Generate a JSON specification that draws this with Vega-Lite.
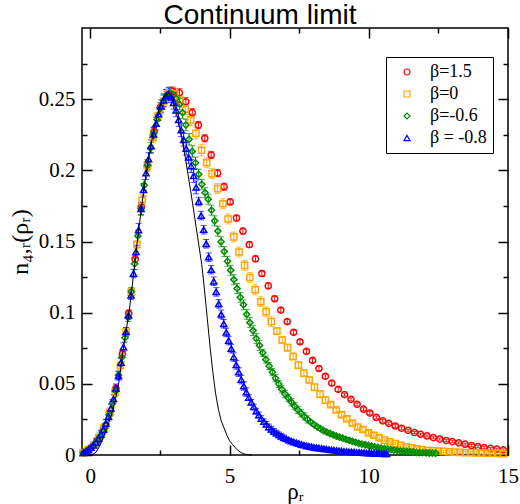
{
"$schema":"https://vega.github.io/schema/vega-lite/v6.json",
"width":426,"height":427,
"autosize":{"type":"none"},
"padding":{"left":82,"top":28,"right":12,"bottom":49},
"background":"white",
"title":{"text":"Continuum limit","font":"Liberation Sans","fontSize":28,"fontWeight":"normal","anchor":"middle","offset":-3,"dx":-35,"color":"black"},
"datasets":{
"pts":[
{"s":"β=1.5","x":-0.22,"y":0.0018,"e":0.001},{"s":"β=1.5","x":0.01,"y":0.0049,"e":0.0015},{"s":"β=1.5","x":0.24,"y":0.0098,"e":0.002},{"s":"β=1.5","x":0.47,"y":0.0177,"e":0.002},{"s":"β=1.5","x":0.69,"y":0.0294,"e":0.0025},{"s":"β=1.5","x":0.92,"y":0.0468,"e":0.0025},{"s":"β=1.5","x":1.15,"y":0.071,"e":0.0025},{"s":"β=1.5","x":1.38,"y":0.0995,"e":0.0025},{"s":"β=1.5","x":1.61,"y":0.1377,"e":0.0025},{"s":"β=1.5","x":1.83,"y":0.1745,"e":0.003},{"s":"β=1.5","x":2.06,"y":0.2035,"e":0.003},{"s":"β=1.5","x":2.29,"y":0.2272,"e":0.003},{"s":"β=1.5","x":2.52,"y":0.2445,"e":0.003},{"s":"β=1.5","x":2.75,"y":0.2525,"e":0.003},{"s":"β=1.5","x":2.97,"y":0.2555,"e":0.003},{"s":"β=1.5","x":3.2,"y":0.2544,"e":0.003},{"s":"β=1.5","x":3.43,"y":0.2482,"e":0.003},{"s":"β=1.5","x":3.66,"y":0.2405,"e":0.003},{"s":"β=1.5","x":3.88,"y":0.2318,"e":0.0025},{"s":"β=1.5","x":4.11,"y":0.2225,"e":0.0025},{"s":"β=1.5","x":4.34,"y":0.2108,"e":0.0025},{"s":"β=1.5","x":4.57,"y":0.198,"e":0.0025},{"s":"β=1.5","x":4.8,"y":0.1885,"e":0.0025},{"s":"β=1.5","x":5.02,"y":0.1778,"e":0.002},{"s":"β=1.5","x":5.25,"y":0.1665,"e":0.002},{"s":"β=1.5","x":5.48,"y":0.1573,"e":0.002},{"s":"β=1.5","x":5.71,"y":0.1478,"e":0.002},{"s":"β=1.5","x":5.93,"y":0.1378,"e":0.002},{"s":"β=1.5","x":6.16,"y":0.1275,"e":0.002},{"s":"β=1.5","x":6.39,"y":0.1188,"e":0.002},{"s":"β=1.5","x":6.62,"y":0.1098,"e":0.002},{"s":"β=1.5","x":6.84,"y":0.1018,"e":0.0015},{"s":"β=1.5","x":7.07,"y":0.0937,"e":0.0015},{"s":"β=1.5","x":7.3,"y":0.0862,"e":0.0015},{"s":"β=1.5","x":7.53,"y":0.0795,"e":0.0015},{"s":"β=1.5","x":7.76,"y":0.0728,"e":0.0015},{"s":"β=1.5","x":7.98,"y":0.0665,"e":0.0015},{"s":"β=1.5","x":8.21,"y":0.0608,"e":0.0015},{"s":"β=1.5","x":8.44,"y":0.0553,"e":0.0015},{"s":"β=1.5","x":8.67,"y":0.0505,"e":0.0015},{"s":"β=1.5","x":8.9,"y":0.0461,"e":0.0015},{"s":"β=1.5","x":9.13,"y":0.0424,"e":0.001},{"s":"β=1.5","x":9.36,"y":0.0391,"e":0.001},{"s":"β=1.5","x":9.58,"y":0.0356,"e":0.001},{"s":"β=1.5","x":9.81,"y":0.0322,"e":0.001},{"s":"β=1.5","x":10.04,"y":0.0295,"e":0.001},{"s":"β=1.5","x":10.27,"y":0.0264,"e":0.001},{"s":"β=1.5","x":10.5,"y":0.024,"e":0.001},{"s":"β=1.5","x":10.72,"y":0.0222,"e":0.001},{"s":"β=1.5","x":10.95,"y":0.0204,"e":0.001},{"s":"β=1.5","x":11.18,"y":0.0188,"e":0.001},{"s":"β=1.5","x":11.41,"y":0.0173,"e":0.0007},{"s":"β=1.5","x":11.64,"y":0.0158,"e":0.0007},{"s":"β=1.5","x":11.86,"y":0.0146,"e":0.0007},{"s":"β=1.5","x":12.09,"y":0.0134,"e":0.0007},{"s":"β=1.5","x":12.32,"y":0.0122,"e":0.0007},{"s":"β=1.5","x":12.55,"y":0.0112,"e":0.0007},{"s":"β=1.5","x":12.78,"y":0.0102,"e":0.0007},{"s":"β=1.5","x":13.0,"y":0.0094,"e":0.0007},{"s":"β=1.5","x":13.23,"y":0.0085,"e":0.0007},{"s":"β=1.5","x":13.46,"y":0.0076,"e":0.0007},{"s":"β=1.5","x":13.69,"y":0.0067,"e":0.0007},{"s":"β=1.5","x":13.92,"y":0.0059,"e":0.0007},{"s":"β=1.5","x":14.14,"y":0.0052,"e":0.0007},{"s":"β=1.5","x":14.37,"y":0.0046,"e":0.0007},{"s":"β=1.5","x":14.6,"y":0.0041,"e":0.0007},{"s":"β=1.5","x":14.83,"y":0.0036,"e":0.0007},
{"s":"β=0","x":-0.27,"y":0.0014,"e":0.001},{"s":"β=0","x":-0.08,"y":0.0036,"e":0.0015},{"s":"β=0","x":0.12,"y":0.007,"e":0.002},{"s":"β=0","x":0.31,"y":0.012,"e":0.002},{"s":"β=0","x":0.5,"y":0.019,"e":0.003},{"s":"β=0","x":0.7,"y":0.03,"e":0.003},{"s":"β=0","x":0.89,"y":0.0442,"e":0.003},{"s":"β=0","x":1.08,"y":0.0629,"e":0.003},{"s":"β=0","x":1.28,"y":0.0864,"e":0.003},{"s":"β=0","x":1.47,"y":0.1144,"e":0.003},{"s":"β=0","x":1.67,"y":0.1479,"e":0.003},{"s":"β=0","x":1.86,"y":0.179,"e":0.004},{"s":"β=0","x":2.05,"y":0.2035,"e":0.004},{"s":"β=0","x":2.25,"y":0.2235,"e":0.004},{"s":"β=0","x":2.44,"y":0.2385,"e":0.004},{"s":"β=0","x":2.63,"y":0.2485,"e":0.004},{"s":"β=0","x":2.83,"y":0.2545,"e":0.004},{"s":"β=0","x":3.02,"y":0.2538,"e":0.004},{"s":"β=0","x":3.21,"y":0.2492,"e":0.004},{"s":"β=0","x":3.41,"y":0.2431,"e":0.004},{"s":"β=0","x":3.6,"y":0.2355,"e":0.004},{"s":"β=0","x":3.79,"y":0.226,"e":0.004},{"s":"β=0","x":3.99,"y":0.2141,"e":0.004},{"s":"β=0","x":4.18,"y":0.2053,"e":0.0035},{"s":"β=0","x":4.37,"y":0.1977,"e":0.0035},{"s":"β=0","x":4.57,"y":0.1872,"e":0.0035},{"s":"β=0","x":4.76,"y":0.1765,"e":0.0035},{"s":"β=0","x":4.95,"y":0.1658,"e":0.0035},{"s":"β=0","x":5.15,"y":0.1532,"e":0.0035},{"s":"β=0","x":5.34,"y":0.1426,"e":0.0035},{"s":"β=0","x":5.54,"y":0.1332,"e":0.0035},{"s":"β=0","x":5.73,"y":0.1247,"e":0.0035},{"s":"β=0","x":5.92,"y":0.1161,"e":0.0035},{"s":"β=0","x":6.12,"y":0.1077,"e":0.0035},{"s":"β=0","x":6.31,"y":0.1005,"e":0.0035},{"s":"β=0","x":6.5,"y":0.0937,"e":0.0035},{"s":"β=0","x":6.7,"y":0.087,"e":0.0025},{"s":"β=0","x":6.89,"y":0.0808,"e":0.0025},{"s":"β=0","x":7.08,"y":0.0754,"e":0.0025},{"s":"β=0","x":7.28,"y":0.0692,"e":0.0025},{"s":"β=0","x":7.47,"y":0.0632,"e":0.0025},{"s":"β=0","x":7.67,"y":0.0575,"e":0.0025},{"s":"β=0","x":7.86,"y":0.0527,"e":0.0025},{"s":"β=0","x":8.05,"y":0.0477,"e":0.0025},{"s":"β=0","x":8.25,"y":0.0428,"e":0.0025},{"s":"β=0","x":8.44,"y":0.0386,"e":0.0025},{"s":"β=0","x":8.63,"y":0.0354,"e":0.0015},{"s":"β=0","x":8.83,"y":0.0316,"e":0.0015},{"s":"β=0","x":9.02,"y":0.0284,"e":0.0015},{"s":"β=0","x":9.21,"y":0.0254,"e":0.0015},{"s":"β=0","x":9.41,"y":0.0224,"e":0.0015},{"s":"β=0","x":9.6,"y":0.0197,"e":0.0015},{"s":"β=0","x":9.79,"y":0.0179,"e":0.0015},{"s":"β=0","x":9.99,"y":0.0156,"e":0.0015},{"s":"β=0","x":10.18,"y":0.0139,"e":0.0015},{"s":"β=0","x":10.37,"y":0.0122,"e":0.0015},{"s":"β=0","x":10.57,"y":0.0105,"e":0.0008},{"s":"β=0","x":10.76,"y":0.0092,"e":0.0008},{"s":"β=0","x":10.95,"y":0.008,"e":0.0008},{"s":"β=0","x":11.15,"y":0.0068,"e":0.0008},{"s":"β=0","x":11.34,"y":0.0058,"e":0.0008},{"s":"β=0","x":11.53,"y":0.005,"e":0.0008},{"s":"β=0","x":11.73,"y":0.0044,"e":0.0008},{"s":"β=0","x":11.92,"y":0.0037,"e":0.0008},{"s":"β=0","x":12.11,"y":0.0033,"e":0.0008},{"s":"β=0","x":12.31,"y":0.003,"e":0.0008},{"s":"β=0","x":12.5,"y":0.0027,"e":0.0008},{"s":"β=0","x":12.69,"y":0.0025,"e":0.0008},{"s":"β=0","x":12.89,"y":0.0022,"e":0.0008},{"s":"β=0","x":13.08,"y":0.002,"e":0.0008},{"s":"β=0","x":13.28,"y":0.0019,"e":0.0008},{"s":"β=0","x":13.47,"y":0.0017,"e":0.0008},{"s":"β=0","x":13.66,"y":0.0016,"e":0.0008},{"s":"β=0","x":13.86,"y":0.0015,"e":0.0008},{"s":"β=0","x":14.05,"y":0.0014,"e":0.0008},{"s":"β=0","x":14.24,"y":0.0013,"e":0.0008},{"s":"β=0","x":14.44,"y":0.0012,"e":0.0008},{"s":"β=0","x":14.63,"y":0.0011,"e":0.0008},{"s":"β=0","x":14.82,"y":0.001,"e":0.0008},
{"s":"β=-0.6","x":-0.25,"y":0.0015,"e":0.0015},{"s":"β=-0.6","x":-0.135,"y":0.0028,"e":0.0015},{"s":"β=-0.6","x":-0.02,"y":0.0045,"e":0.0015},{"s":"β=-0.6","x":0.095,"y":0.0065,"e":0.0015},{"s":"β=-0.6","x":0.21,"y":0.0091,"e":0.0015},{"s":"β=-0.6","x":0.325,"y":0.0125,"e":0.003},{"s":"β=-0.6","x":0.44,"y":0.0166,"e":0.003},{"s":"β=-0.6","x":0.555,"y":0.0217,"e":0.003},{"s":"β=-0.6","x":0.67,"y":0.0282,"e":0.003},{"s":"β=-0.6","x":0.785,"y":0.036,"e":0.003},{"s":"β=-0.6","x":0.9,"y":0.045,"e":0.003},{"s":"β=-0.6","x":1.015,"y":0.0561,"e":0.003},{"s":"β=-0.6","x":1.13,"y":0.0686,"e":0.003},{"s":"β=-0.6","x":1.245,"y":0.0824,"e":0.003},{"s":"β=-0.6","x":1.36,"y":0.0968,"e":0.003},{"s":"β=-0.6","x":1.475,"y":0.1148,"e":0.003},{"s":"β=-0.6","x":1.59,"y":0.1343,"e":0.004},{"s":"β=-0.6","x":1.705,"y":0.1539,"e":0.004},{"s":"β=-0.6","x":1.82,"y":0.173,"e":0.004},{"s":"β=-0.6","x":1.935,"y":0.1896,"e":0.004},{"s":"β=-0.6","x":2.05,"y":0.2035,"e":0.004},{"s":"β=-0.6","x":2.165,"y":0.2157,"e":0.004},{"s":"β=-0.6","x":2.28,"y":0.2262,"e":0.004},{"s":"β=-0.6","x":2.395,"y":0.2356,"e":0.004},{"s":"β=-0.6","x":2.51,"y":0.2435,"e":0.004},{"s":"β=-0.6","x":2.625,"y":0.249,"e":0.004},{"s":"β=-0.6","x":2.74,"y":0.2528,"e":0.004},{"s":"β=-0.6","x":2.855,"y":0.2545,"e":0.004},{"s":"β=-0.6","x":2.97,"y":0.2531,"e":0.004},{"s":"β=-0.6","x":3.085,"y":0.2504,"e":0.004},{"s":"β=-0.6","x":3.2,"y":0.2465,"e":0.004},{"s":"β=-0.6","x":3.315,"y":0.2405,"e":0.004},{"s":"β=-0.6","x":3.43,"y":0.2318,"e":0.004},{"s":"β=-0.6","x":3.545,"y":0.2219,"e":0.004},{"s":"β=-0.6","x":3.66,"y":0.2133,"e":0.004},{"s":"β=-0.6","x":3.775,"y":0.2053,"e":0.004},{"s":"β=-0.6","x":3.89,"y":0.1972,"e":0.0035},{"s":"β=-0.6","x":4.005,"y":0.1902,"e":0.0035},{"s":"β=-0.6","x":4.12,"y":0.1843,"e":0.0035},{"s":"β=-0.6","x":4.235,"y":0.1797,"e":0.0035},{"s":"β=-0.6","x":4.35,"y":0.172,"e":0.0035},{"s":"β=-0.6","x":4.465,"y":0.1645,"e":0.0035},{"s":"β=-0.6","x":4.58,"y":0.1573,"e":0.0035},{"s":"β=-0.6","x":4.695,"y":0.1498,"e":0.0035},{"s":"β=-0.6","x":4.81,"y":0.1429,"e":0.0035},{"s":"β=-0.6","x":4.925,"y":0.1361,"e":0.0035},{"s":"β=-0.6","x":5.04,"y":0.1298,"e":0.0035},{"s":"β=-0.6","x":5.155,"y":0.1232,"e":0.0035},{"s":"β=-0.6","x":5.27,"y":0.117,"e":0.0035},{"s":"β=-0.6","x":5.385,"y":0.1108,"e":0.0035},{"s":"β=-0.6","x":5.5,"y":0.1055,"e":0.0035},{"s":"β=-0.6","x":5.615,"y":0.0988,"e":0.0035},{"s":"β=-0.6","x":5.73,"y":0.093,"e":0.0035},{"s":"β=-0.6","x":5.845,"y":0.0874,"e":0.0035},{"s":"β=-0.6","x":5.96,"y":0.0819,"e":0.0035},{"s":"β=-0.6","x":6.075,"y":0.077,"e":0.0035},{"s":"β=-0.6","x":6.19,"y":0.0718,"e":0.0025},{"s":"β=-0.6","x":6.305,"y":0.067,"e":0.0025},{"s":"β=-0.6","x":6.42,"y":0.0625,"e":0.0025},{"s":"β=-0.6","x":6.535,"y":0.0582,"e":0.0025},{"s":"β=-0.6","x":6.65,"y":0.0539,"e":0.0025},{"s":"β=-0.6","x":6.765,"y":0.0499,"e":0.0025},{"s":"β=-0.6","x":6.88,"y":0.0461,"e":0.0025},{"s":"β=-0.6","x":6.995,"y":0.0428,"e":0.0025},{"s":"β=-0.6","x":7.11,"y":0.04,"e":0.0025},{"s":"β=-0.6","x":7.225,"y":0.0371,"e":0.0025},{"s":"β=-0.6","x":7.34,"y":0.0343,"e":0.0025},{"s":"β=-0.6","x":7.455,"y":0.0317,"e":0.0025},{"s":"β=-0.6","x":7.57,"y":0.0293,"e":0.0025},{"s":"β=-0.6","x":7.685,"y":0.0271,"e":0.0025},{"s":"β=-0.6","x":7.8,"y":0.025,"e":0.0025},{"s":"β=-0.6","x":7.915,"y":0.0231,"e":0.0012},{"s":"β=-0.6","x":8.03,"y":0.0214,"e":0.0012},{"s":"β=-0.6","x":8.145,"y":0.0198,"e":0.0012},{"s":"β=-0.6","x":8.26,"y":0.0185,"e":0.0012},{"s":"β=-0.6","x":8.375,"y":0.0172,"e":0.0012},{"s":"β=-0.6","x":8.49,"y":0.0161,"e":0.0012},{"s":"β=-0.6","x":8.605,"y":0.0151,"e":0.0012},{"s":"β=-0.6","x":8.72,"y":0.0142,"e":0.0012},{"s":"β=-0.6","x":8.835,"y":0.0133,"e":0.0012},{"s":"β=-0.6","x":8.95,"y":0.0125,"e":0.0012},{"s":"β=-0.6","x":9.065,"y":0.0118,"e":0.0012},{"s":"β=-0.6","x":9.18,"y":0.011,"e":0.0012},{"s":"β=-0.6","x":9.295,"y":0.0103,"e":0.0012},{"s":"β=-0.6","x":9.41,"y":0.0096,"e":0.0012},{"s":"β=-0.6","x":9.525,"y":0.0089,"e":0.0012},{"s":"β=-0.6","x":9.64,"y":0.0082,"e":0.0006},{"s":"β=-0.6","x":9.755,"y":0.0077,"e":0.0006},{"s":"β=-0.6","x":9.87,"y":0.0072,"e":0.0006},{"s":"β=-0.6","x":9.985,"y":0.0067,"e":0.0006},{"s":"β=-0.6","x":10.1,"y":0.0062,"e":0.0006},{"s":"β=-0.6","x":10.215,"y":0.0057,"e":0.0006},{"s":"β=-0.6","x":10.33,"y":0.0053,"e":0.0006},{"s":"β=-0.6","x":10.445,"y":0.0048,"e":0.0006},{"s":"β=-0.6","x":10.56,"y":0.0044,"e":0.0006},{"s":"β=-0.6","x":10.675,"y":0.0041,"e":0.0006},{"s":"β=-0.6","x":10.79,"y":0.0038,"e":0.0006},{"s":"β=-0.6","x":10.905,"y":0.0035,"e":0.0006},{"s":"β=-0.6","x":11.02,"y":0.0032,"e":0.0006},{"s":"β=-0.6","x":11.135,"y":0.0029,"e":0.0006},{"s":"β=-0.6","x":11.25,"y":0.0027,"e":0.0006},{"s":"β=-0.6","x":11.365,"y":0.0025,"e":0.0006},{"s":"β=-0.6","x":11.48,"y":0.0023,"e":0.0006},{"s":"β=-0.6","x":11.595,"y":0.0021,"e":0.0006},{"s":"β=-0.6","x":11.71,"y":0.0019,"e":0.0006},{"s":"β=-0.6","x":11.825,"y":0.0017,"e":0.0006},{"s":"β=-0.6","x":11.94,"y":0.0016,"e":0.0006},{"s":"β=-0.6","x":12.055,"y":0.0015,"e":0.0006},{"s":"β=-0.6","x":12.17,"y":0.0014,"e":0.0006},{"s":"β=-0.6","x":12.285,"y":0.0013,"e":0.0006},{"s":"β=-0.6","x":12.4,"y":0.0012,"e":0.0006},
{"s":"β = -0.8","x":-0.25,"y":0.0015,"e":0.0015},{"s":"β = -0.8","x":-0.16,"y":0.0025,"e":0.0015},{"s":"β = -0.8","x":-0.07,"y":0.0037,"e":0.0015},{"s":"β = -0.8","x":0.02,"y":0.0052,"e":0.0015},{"s":"β = -0.8","x":0.11,"y":0.0068,"e":0.0015},{"s":"β = -0.8","x":0.2,"y":0.0088,"e":0.003},{"s":"β = -0.8","x":0.29,"y":0.0114,"e":0.003},{"s":"β = -0.8","x":0.38,"y":0.0143,"e":0.003},{"s":"β = -0.8","x":0.47,"y":0.0178,"e":0.003},{"s":"β = -0.8","x":0.56,"y":0.022,"e":0.003},{"s":"β = -0.8","x":0.65,"y":0.027,"e":0.003},{"s":"β = -0.8","x":0.74,"y":0.0328,"e":0.003},{"s":"β = -0.8","x":0.83,"y":0.0394,"e":0.003},{"s":"β = -0.8","x":0.92,"y":0.0469,"e":0.003},{"s":"β = -0.8","x":1.01,"y":0.0556,"e":0.003},{"s":"β = -0.8","x":1.1,"y":0.065,"e":0.003},{"s":"β = -0.8","x":1.19,"y":0.0758,"e":0.003},{"s":"β = -0.8","x":1.28,"y":0.0866,"e":0.003},{"s":"β = -0.8","x":1.37,"y":0.0981,"e":0.003},{"s":"β = -0.8","x":1.46,"y":0.1122,"e":0.003},{"s":"β = -0.8","x":1.55,"y":0.1275,"e":0.003},{"s":"β = -0.8","x":1.64,"y":0.1428,"e":0.0045},{"s":"β = -0.8","x":1.73,"y":0.1581,"e":0.0045},{"s":"β = -0.8","x":1.82,"y":0.173,"e":0.0045},{"s":"β = -0.8","x":1.91,"y":0.1863,"e":0.0045},{"s":"β = -0.8","x":2.0,"y":0.198,"e":0.0045},{"s":"β = -0.8","x":2.09,"y":0.2079,"e":0.0045},{"s":"β = -0.8","x":2.18,"y":0.217,"e":0.0045},{"s":"β = -0.8","x":2.27,"y":0.2253,"e":0.0045},{"s":"β = -0.8","x":2.36,"y":0.2328,"e":0.0045},{"s":"β = -0.8","x":2.45,"y":0.2395,"e":0.0045},{"s":"β = -0.8","x":2.54,"y":0.245,"e":0.0045},{"s":"β = -0.8","x":2.63,"y":0.2492,"e":0.0045},{"s":"β = -0.8","x":2.72,"y":0.2524,"e":0.0045},{"s":"β = -0.8","x":2.81,"y":0.2535,"e":0.0045},{"s":"β = -0.8","x":2.9,"y":0.252,"e":0.0045},{"s":"β = -0.8","x":2.99,"y":0.2475,"e":0.0045},{"s":"β = -0.8","x":3.08,"y":0.2422,"e":0.0045},{"s":"β = -0.8","x":3.17,"y":0.2354,"e":0.0045},{"s":"β = -0.8","x":3.26,"y":0.2282,"e":0.0045},{"s":"β = -0.8","x":3.35,"y":0.2215,"e":0.0045},{"s":"β = -0.8","x":3.44,"y":0.2152,"e":0.0045},{"s":"β = -0.8","x":3.53,"y":0.2091,"e":0.0045},{"s":"β = -0.8","x":3.62,"y":0.203,"e":0.0045},{"s":"β = -0.8","x":3.71,"y":0.1961,"e":0.0045},{"s":"β = -0.8","x":3.8,"y":0.188,"e":0.0045},{"s":"β = -0.8","x":3.89,"y":0.1781,"e":0.003},{"s":"β = -0.8","x":3.98,"y":0.1682,"e":0.003},{"s":"β = -0.8","x":4.07,"y":0.1583,"e":0.003},{"s":"β = -0.8","x":4.16,"y":0.1484,"e":0.003},{"s":"β = -0.8","x":4.25,"y":0.139,"e":0.003},{"s":"β = -0.8","x":4.34,"y":0.1302,"e":0.003},{"s":"β = -0.8","x":4.43,"y":0.1221,"e":0.003},{"s":"β = -0.8","x":4.52,"y":0.1146,"e":0.003},{"s":"β = -0.8","x":4.61,"y":0.1062,"e":0.003},{"s":"β = -0.8","x":4.7,"y":0.0988,"e":0.003},{"s":"β = -0.8","x":4.79,"y":0.0922,"e":0.003},{"s":"β = -0.8","x":4.88,"y":0.0861,"e":0.003},{"s":"β = -0.8","x":4.97,"y":0.0804,"e":0.003},{"s":"β = -0.8","x":5.06,"y":0.0747,"e":0.003},{"s":"β = -0.8","x":5.15,"y":0.0688,"e":0.003},{"s":"β = -0.8","x":5.24,"y":0.0633,"e":0.003},{"s":"β = -0.8","x":5.33,"y":0.0582,"e":0.003},{"s":"β = -0.8","x":5.42,"y":0.053,"e":0.003},{"s":"β = -0.8","x":5.51,"y":0.0485,"e":0.003},{"s":"β = -0.8","x":5.6,"y":0.0442,"e":0.003},{"s":"β = -0.8","x":5.69,"y":0.0404,"e":0.002},{"s":"β = -0.8","x":5.78,"y":0.037,"e":0.002},{"s":"β = -0.8","x":5.87,"y":0.0338,"e":0.002},{"s":"β = -0.8","x":5.96,"y":0.0308,"e":0.002},{"s":"β = -0.8","x":6.05,"y":0.0281,"e":0.002},{"s":"β = -0.8","x":6.14,"y":0.0256,"e":0.002},{"s":"β = -0.8","x":6.23,"y":0.0234,"e":0.002},{"s":"β = -0.8","x":6.32,"y":0.0215,"e":0.002},{"s":"β = -0.8","x":6.41,"y":0.0197,"e":0.002},{"s":"β = -0.8","x":6.5,"y":0.0181,"e":0.002},{"s":"β = -0.8","x":6.59,"y":0.0166,"e":0.002},{"s":"β = -0.8","x":6.68,"y":0.0154,"e":0.002},{"s":"β = -0.8","x":6.77,"y":0.0142,"e":0.002},{"s":"β = -0.8","x":6.86,"y":0.0132,"e":0.002},{"s":"β = -0.8","x":6.95,"y":0.0121,"e":0.002},{"s":"β = -0.8","x":7.04,"y":0.0113,"e":0.0012},{"s":"β = -0.8","x":7.13,"y":0.0105,"e":0.0012},{"s":"β = -0.8","x":7.22,"y":0.0098,"e":0.0012},{"s":"β = -0.8","x":7.31,"y":0.0091,"e":0.0012},{"s":"β = -0.8","x":7.4,"y":0.0085,"e":0.0012},{"s":"β = -0.8","x":7.49,"y":0.008,"e":0.0012},{"s":"β = -0.8","x":7.58,"y":0.0074,"e":0.0012},{"s":"β = -0.8","x":7.67,"y":0.0069,"e":0.0012},{"s":"β = -0.8","x":7.76,"y":0.0065,"e":0.0012},{"s":"β = -0.8","x":7.85,"y":0.0061,"e":0.0012},{"s":"β = -0.8","x":7.94,"y":0.0058,"e":0.0012},{"s":"β = -0.8","x":8.03,"y":0.0054,"e":0.0012},{"s":"β = -0.8","x":8.12,"y":0.0051,"e":0.0012},{"s":"β = -0.8","x":8.21,"y":0.0049,"e":0.0012},{"s":"β = -0.8","x":8.3,"y":0.0046,"e":0.0012},{"s":"β = -0.8","x":8.39,"y":0.0043,"e":0.0006},{"s":"β = -0.8","x":8.48,"y":0.0041,"e":0.0006},{"s":"β = -0.8","x":8.57,"y":0.0038,"e":0.0006},{"s":"β = -0.8","x":8.66,"y":0.0036,"e":0.0006},{"s":"β = -0.8","x":8.75,"y":0.0034,"e":0.0006},{"s":"β = -0.8","x":8.84,"y":0.0032,"e":0.0006},{"s":"β = -0.8","x":8.93,"y":0.003,"e":0.0006},{"s":"β = -0.8","x":9.02,"y":0.0028,"e":0.0006},{"s":"β = -0.8","x":9.11,"y":0.0026,"e":0.0006},{"s":"β = -0.8","x":9.2,"y":0.0025,"e":0.0006},{"s":"β = -0.8","x":9.29,"y":0.0023,"e":0.0006},{"s":"β = -0.8","x":9.38,"y":0.0022,"e":0.0006},{"s":"β = -0.8","x":9.47,"y":0.0021,"e":0.0006},{"s":"β = -0.8","x":9.56,"y":0.0019,"e":0.0006},{"s":"β = -0.8","x":9.65,"y":0.0018,"e":0.0006},{"s":"β = -0.8","x":9.74,"y":0.0017,"e":0.0006},{"s":"β = -0.8","x":9.83,"y":0.0016,"e":0.0006},{"s":"β = -0.8","x":9.92,"y":0.0015,"e":0.0006},{"s":"β = -0.8","x":10.01,"y":0.0014,"e":0.0006},{"s":"β = -0.8","x":10.1,"y":0.0013,"e":0.0006},{"s":"β = -0.8","x":10.19,"y":0.0012,"e":0.0006},{"s":"β = -0.8","x":10.28,"y":0.0012,"e":0.0006},{"s":"β = -0.8","x":10.37,"y":0.0011,"e":0.0006},{"s":"β = -0.8","x":10.46,"y":0.001,"e":0.0006},{"s":"β = -0.8","x":10.55,"y":0.0009,"e":0.0006},{"s":"β = -0.8","x":10.64,"y":0.0009,"e":0.0006}
],
"th":[
{"x":0.0,"y":0},{"x":0.1,"y":0.0005},{"x":0.2,"y":0.002},{"x":0.3,"y":0.005},{"x":0.4,"y":0.009},{"x":0.5,"y":0.014},{"x":0.6,"y":0.019},{"x":0.7,"y":0.025},{"x":0.8,"y":0.031},{"x":0.9,"y":0.039},{"x":1.0,"y":0.048},{"x":1.1,"y":0.062},{"x":1.2,"y":0.077},{"x":1.3,"y":0.089},{"x":1.4,"y":0.102},{"x":1.5,"y":0.118},{"x":1.6,"y":0.135},{"x":1.7,"y":0.152},{"x":1.8,"y":0.168},{"x":1.9,"y":0.183},{"x":2.0,"y":0.197},{"x":2.1,"y":0.209},{"x":2.2,"y":0.22},{"x":2.3,"y":0.23},{"x":2.4,"y":0.238},{"x":2.5,"y":0.245},{"x":2.6,"y":0.25},{"x":2.7,"y":0.253},{"x":2.8,"y":0.254},{"x":2.9,"y":0.252},{"x":3.0,"y":0.247},{"x":3.1,"y":0.24},{"x":3.2,"y":0.231},{"x":3.3,"y":0.221},{"x":3.4,"y":0.21},{"x":3.5,"y":0.198},{"x":3.6,"y":0.186},{"x":3.7,"y":0.173},{"x":3.8,"y":0.16},{"x":3.9,"y":0.147},{"x":4.0,"y":0.134},{"x":4.1,"y":0.116},{"x":4.2,"y":0.096},{"x":4.3,"y":0.076},{"x":4.4,"y":0.058},{"x":4.5,"y":0.043},{"x":4.6,"y":0.032},{"x":4.7,"y":0.024},{"x":4.8,"y":0.019},{"x":4.9,"y":0.014},{"x":5.0,"y":0.01},{"x":5.1,"y":0.0075},{"x":5.2,"y":0.0052},{"x":5.3,"y":0.0033},{"x":5.4,"y":0.0018},{"x":5.5,"y":0.0009},{"x":5.6,"y":0.0004},{"x":5.7,"y":0.0001},{"x":5.8,"y":0}
]
},
"layer":[
{"data":{"name":"pts"},
 "mark":{"type":"errorbar","ticks":true,"size":6,"thickness":1},
 "encoding":{
  "x":{"field":"x","type":"quantitative","scale":{"domain":[-0.3,15],"nice":false,"zero":false},"axis":null},
  "y":{"field":"y","type":"quantitative","scale":{"domain":[0,0.3],"nice":false,"zero":false},"axis":null},
  "yError":{"field":"e"},
  "color":{"field":"s","type":"nominal","scale":{"domain":["β=1.5","β=0","β=-0.6","β = -0.8"],"range":["#ff0000","#ffa500","#008b00","#0000ff"]},"legend":null}
 }},
{"data":{"name":"pts"},
 "mark":{"type":"point","filled":false,"size":38,"strokeWidth":1.5,"opacity":1},
 "encoding":{
  "x":{"field":"x","type":"quantitative","scale":{"domain":[-0.3,15],"nice":false,"zero":false},
       "axis":{"orient":"top","values":[0,2.5,5,7.5,10,12.5,15],"labels":false,"title":null,
               "tickSize":{"condition":{"test":"round(datum.value*2)%2==0","value":-10},"value":-5}}},
  "y":{"field":"y","type":"quantitative","scale":{"domain":[0,0.3],"nice":false,"zero":false},
       "axis":{"orient":"right","values":[0,0.025,0.05,0.075,0.1,0.125,0.15,0.175,0.2,0.225,0.25,0.275],"labels":false,"title":null,
               "tickSize":{"condition":{"test":"round(datum.value*40)%2==0","value":-10},"value":-5}}},
  "color":{"field":"s","type":"nominal","title":null,"scale":{"domain":["β=1.5","β=0","β=-0.6","β = -0.8"],"range":["#ff0000","#ffa500","#008b00","#0000ff"]}},
  "shape":{"field":"s","type":"nominal","title":null,"scale":{"domain":["β=1.5","β=0","β=-0.6","β = -0.8"],"range":["circle","square","diamond","triangle-up"]}}
 }},
{"data":{"name":"th"},
 "mark":{"type":"line","color":"black","strokeWidth":1},
 "encoding":{
  "x":{"field":"x","type":"quantitative","scale":{"domain":[-0.3,15],"nice":false,"zero":false},
       "axis":{"orient":"bottom","values":[0,2.5,5,7.5,10,12.5,15],"title":"ρᵣ",
               "labelExpr":"round(datum.value*2)%2==0 ? format(datum.value,'~g') : ''",
               "tickSize":{"condition":{"test":"round(datum.value*2)%2==0","value":-10},"value":-5},
               "labelPadding":20,"titlePadding":-11,"titleFontSize":23}},
  "y":{"field":"y","type":"quantitative","scale":{"domain":[0,0.3],"nice":false,"zero":false},
       "axis":{"orient":"left","values":[0,0.025,0.05,0.075,0.1,0.125,0.15,0.175,0.2,0.225,0.25,0.275],"title":"n₄,ᵣ(ρᵣ)",
               "labelExpr":"round(datum.value*40)%2==0 ? format(datum.value,'~g') : ''",
               "tickSize":{"condition":{"test":"round(datum.value*40)%2==0","value":-10},"value":-5},
               "labelPadding":17,"titlePadding":6}}
 }}
],
"resolve":{"axis":{"x":"independent","y":"independent"},"legend":{"color":"independent","shape":"independent"}},
"config":{
 "view":{"stroke":"black","strokeWidth":1.5},
 "axis":{"domain":false,"grid":false,"tickColor":"black","tickWidth":1.5,"labelColor":"black","titleColor":"black",
         "labelFont":"Liberation Serif","labelFontSize":21,"titleFont":"Liberation Serif","titleFontSize":24,"titleFontWeight":"normal",
         "labelFlush":false,"labelOverlap":false},
 "legend":{"orient":"none","legendX":304,"legendY":29,"strokeColor":"black","fillColor":"white","padding":6,
           "labelFont":"Liberation Serif","labelFontSize":18,"labelColor":"black","symbolSize":36,"symbolStrokeWidth":1.2,
           "rowPadding":4,"labelOffset":14,"symbolOffset":6}
}
}
